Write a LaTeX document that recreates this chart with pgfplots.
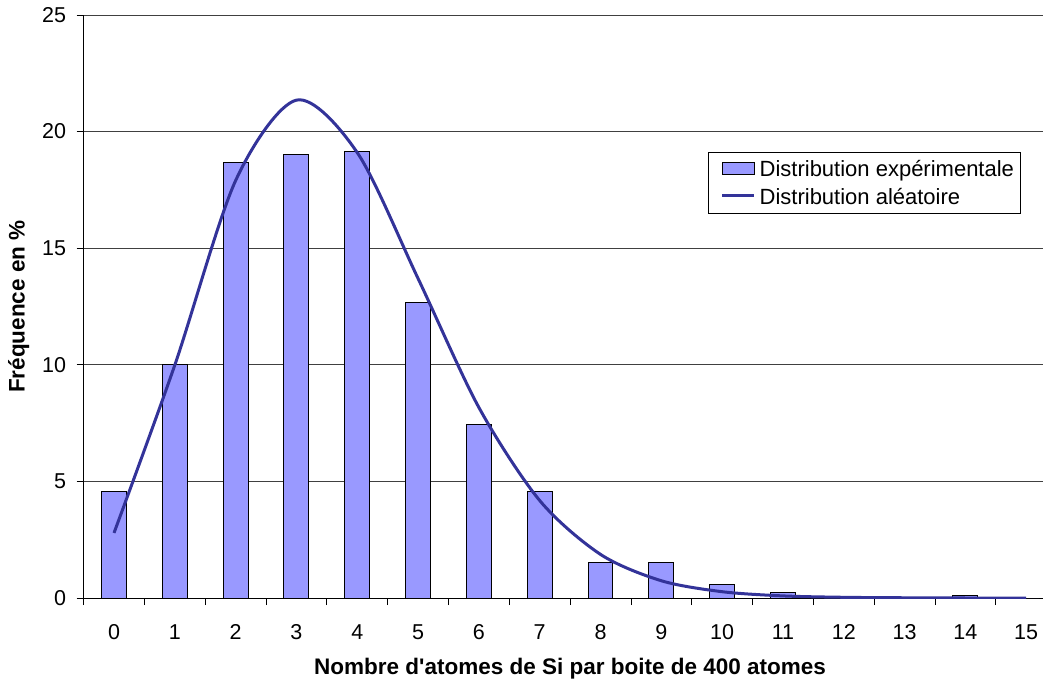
\documentclass[border=0pt]{standalone}
\usepackage{pgfplots}
\pgfplotsset{compat=1.18}
\usepackage{fontspec}
\setmainfont{Liberation Sans}
\definecolor{barfill}{HTML}{9999FF}
\definecolor{curve}{HTML}{333399}

\begin{document}
\begin{tikzpicture}[font=\fontsize{21.5}{25}\selectfont]
\begin{axis}[
    at={(0,0)}, anchor=south west,
    scale only axis,
    width=973pt, height=583pt,
    xmin=-0.5, xmax=15.5,
    ymin=0, ymax=25,
    axis x line*=bottom, axis y line*=left,
    axis line style={-, black, line width=0.8pt},
    xtick={0,...,15},
    minor xtick={-0.5,0.5,...,15.5},
    ytick={0,5,...,25},
    major x tick style={draw=none},
    minor x tick style={black, line width=0.8pt},
    y tick style={black, line width=0.8pt},
    tick align=outside,
    major tick length=7pt, minor tick length=7pt,
    ymajorgrids,
    grid style={black!75, line width=0.8pt},
    /pgf/number format/assume math mode=true,
    xticklabel style={yshift=-16pt},
    yticklabel style={xshift=-7pt},
    xlabel={\bfseries\fontsize{22.5}{26}\selectfont Nombre d\textquotesingle atomes de Si par boite de 400 atomes},
    ylabel={\bfseries\fontsize{22.5}{26}\selectfont Fréquence en \%},
    xlabel style={yshift=-12pt},
    ylabel style={yshift=6pt},
    legend style={
        at={(0.642,0.765)}, anchor=north west,
        draw=black, line width=0.8pt,
        font=\fontsize{22}{25}\selectfont,
        inner xsep=4pt, inner ysep=6pt,
        row sep=6pt
    },
    legend cell align=left,
]

% Distribution experimentale (barres)
\addplot[ybar, bar width=0.41, fill=barfill, draw=black, line width=1pt,
    legend image code/.code={
        \path (-8pt,0pt) (34pt,0pt);
        \draw[fill=barfill, draw=black, line width=0.8pt] (0pt,-5pt) rectangle (32pt,7pt);}]
    coordinates {
    (0,4.56) (1,10.0) (2,18.68) (3,19.03) (4,19.13) (5,12.67)
    (6,7.44) (7,4.55) (8,1.52) (9,1.52) (10,0.56) (11,0.22)
    (12,0) (13,0) (14,0.11) (15,0)
};
\addlegendentry{Distribution expérimentale}

% Distribution aleatoire (courbe lissee)
\addplot[curve, line width=3pt, smooth, no marks,
    legend image code/.code={
        \path (-8pt,0pt) (34pt,0pt);
        \draw[curve, line width=3pt] (0pt,1pt) -- (32pt,1pt);}]
    coordinates {
    (0,2.79) (1,9.99) (2,17.9) (3,21.35) (4,19.1) (5,13.7)
    (6,8.17) (7,4.18) (8,1.87) (9,0.74) (10,0.27) (11,0.09)
    (12,0.03) (13,0.01) (14,0.0) (15,0.0)
};
\addlegendentry{Distribution aléatoire}

\end{axis}
\pgfresetboundingbox
\useasboundingbox (-83.6pt,-84pt) rectangle (959.4pt,598pt);
\end{tikzpicture}
\end{document}
